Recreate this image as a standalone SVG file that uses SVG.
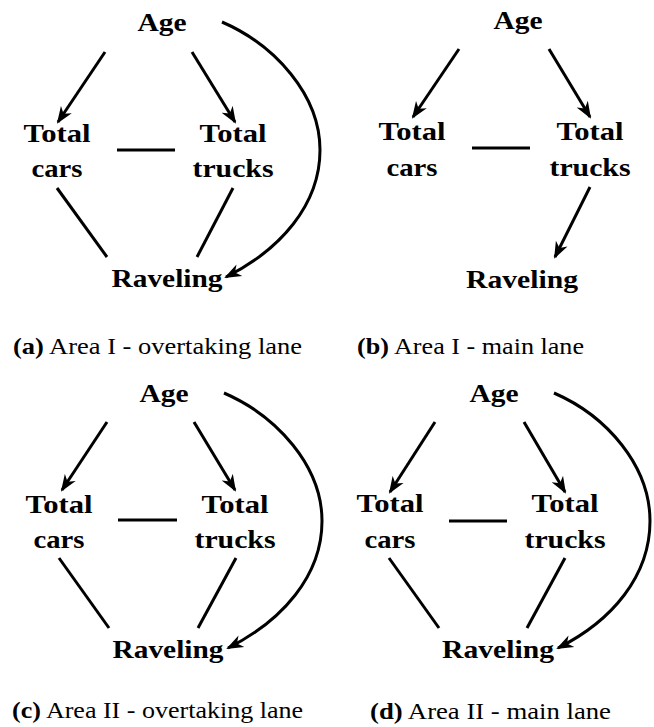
<svg xmlns="http://www.w3.org/2000/svg" width="654" height="727" viewBox="0 0 654 727">
<style>
.n{font-weight:bold;font-size:25px;fill:#000;text-anchor:middle}
.cap{font-size:23px;fill:#000}
.b{font-weight:bold}
.e{fill:none;stroke:#000;stroke-width:3}
</style>
<defs>
<marker id="ah" markerUnits="userSpaceOnUse" markerWidth="17" markerHeight="14" refX="15" refY="7" orient="auto">
<path d="M0,0.5 L17,7 L0,13.5 L5,7 Z" fill="#000"/>
</marker>
</defs>
<rect width="654" height="727" fill="#fff"/>

<g id="connectors">
<path class="e" d="M105,52 L58,122" marker-end="url(#ah)"/>
<path class="e" d="M192,52 L235,122" marker-end="url(#ah)"/>
<path class="e" d="M117,150 L175,150"/>
<path class="e" d="M57,188 L107,257"/>
<path class="e" d="M233,188 L197,257"/>
<path class="e" d="M222,22 C275,45 320,95 320,150 C320,205 280,250 226,277" marker-end="url(#ah)"/>

<path class="e" d="M459,49 L413,117" marker-end="url(#ah)"/>
<path class="e" d="M549,49 L590,117" marker-end="url(#ah)"/>
<path class="e" d="M472,148 L530,148"/>
<path class="e" d="M590,187 L555,257" marker-end="url(#ah)"/>

<path class="e" d="M107,422 L62,490" marker-end="url(#ah)"/>
<path class="e" d="M194,422 L235,490" marker-end="url(#ah)"/>
<path class="e" d="M118,520 L177,520"/>
<path class="e" d="M59,558 L109,628"/>
<path class="e" d="M236,558 L198,628"/>
<path class="e" d="M224,393 C277,416 322,466 322,521 C322,576 282,621 228,648" marker-end="url(#ah)"/>

<path class="e" d="M435,422 L390,492" marker-end="url(#ah)"/>
<path class="e" d="M524,422 L565,492" marker-end="url(#ah)"/>
<path class="e" d="M449,521 L507,521"/>
<path class="e" d="M389,558 L439,628"/>
<path class="e" d="M565,558 L527,628"/>
<path class="e" d="M554,393 C607,416 650,466 650,521 C650,576 612,621 558,648" marker-end="url(#ah)"/>
</g>

<g font-family="Liberation Serif, Times New Roman, Times, serif">
<g id="a-age"><text class="n" x="162" y="31" textLength="49" lengthAdjust="spacingAndGlyphs">Age</text></g>
<g id="a-cars"><text class="n" x="57" y="142" textLength="67" lengthAdjust="spacingAndGlyphs">Total</text><text class="n" x="57" y="177" textLength="51" lengthAdjust="spacingAndGlyphs">cars</text></g>
<g id="a-trucks"><text class="n" x="233" y="142" textLength="67" lengthAdjust="spacingAndGlyphs">Total</text><text class="n" x="233" y="177" textLength="81" lengthAdjust="spacingAndGlyphs">trucks</text></g>
<g id="a-raveling"><text class="n" x="167" y="287" textLength="111" lengthAdjust="spacingAndGlyphs">Raveling</text></g>
<g id="a-caption"><text class="cap" x="13" y="354" textLength="289" lengthAdjust="spacingAndGlyphs"><tspan class="b">(a)</tspan> Area I - overtaking lane</text></g>

<g id="b-age"><text class="n" x="518" y="29" textLength="49" lengthAdjust="spacingAndGlyphs">Age</text></g>
<g id="b-cars"><text class="n" x="412" y="140" textLength="67" lengthAdjust="spacingAndGlyphs">Total</text><text class="n" x="412" y="176" textLength="51" lengthAdjust="spacingAndGlyphs">cars</text></g>
<g id="b-trucks"><text class="n" x="590" y="140" textLength="67" lengthAdjust="spacingAndGlyphs">Total</text><text class="n" x="590" y="176" textLength="81" lengthAdjust="spacingAndGlyphs">trucks</text></g>
<g id="b-raveling"><text class="n" x="522" y="288" textLength="112" lengthAdjust="spacingAndGlyphs">Raveling</text></g>
<g id="b-caption"><text class="cap" x="357" y="354" textLength="227" lengthAdjust="spacingAndGlyphs"><tspan class="b">(b)</tspan> Area I - main lane</text></g>

<g id="c-age"><text class="n" x="164" y="402" textLength="49" lengthAdjust="spacingAndGlyphs">Age</text></g>
<g id="c-cars"><text class="n" x="59" y="513" textLength="67" lengthAdjust="spacingAndGlyphs">Total</text><text class="n" x="59" y="548" textLength="51" lengthAdjust="spacingAndGlyphs">cars</text></g>
<g id="c-trucks"><text class="n" x="235" y="513" textLength="67" lengthAdjust="spacingAndGlyphs">Total</text><text class="n" x="235" y="548" textLength="81" lengthAdjust="spacingAndGlyphs">trucks</text></g>
<g id="c-raveling"><text class="n" x="168" y="658" textLength="111" lengthAdjust="spacingAndGlyphs">Raveling</text></g>
<g id="c-caption"><text class="cap" x="12" y="718" textLength="291" lengthAdjust="spacingAndGlyphs"><tspan class="b">(c)</tspan> Area II - overtaking lane</text></g>

<g id="d-age"><text class="n" x="494" y="402" textLength="49" lengthAdjust="spacingAndGlyphs">Age</text></g>
<g id="d-cars"><text class="n" x="390" y="512" textLength="67" lengthAdjust="spacingAndGlyphs">Total</text><text class="n" x="390" y="548" textLength="51" lengthAdjust="spacingAndGlyphs">cars</text></g>
<g id="d-trucks"><text class="n" x="565" y="512" textLength="67" lengthAdjust="spacingAndGlyphs">Total</text><text class="n" x="565" y="548" textLength="81" lengthAdjust="spacingAndGlyphs">trucks</text></g>
<g id="d-raveling"><text class="n" x="498" y="658" textLength="112" lengthAdjust="spacingAndGlyphs">Raveling</text></g>
<g id="d-caption"><text class="cap" x="370" y="719" textLength="241" lengthAdjust="spacingAndGlyphs"><tspan class="b">(d)</tspan> Area II - main lane</text></g>
</g>
</svg>
